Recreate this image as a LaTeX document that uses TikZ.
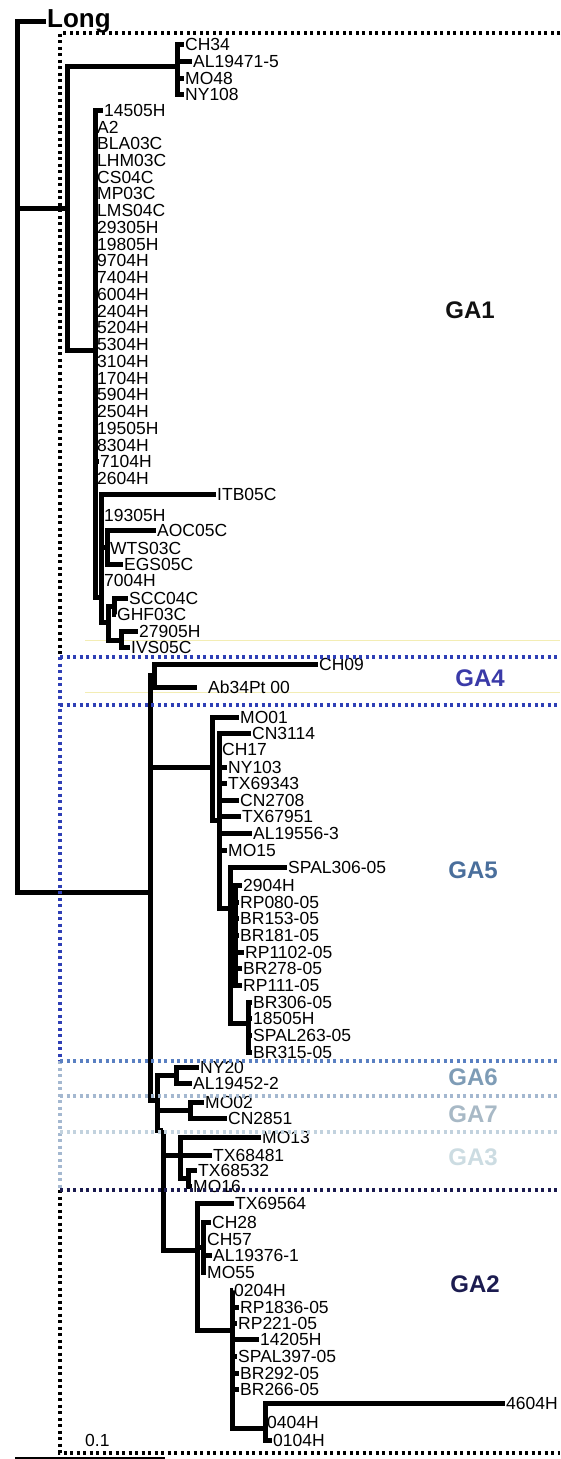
\documentclass[tikz,border=0pt]{standalone}
\usepackage{fontspec}
\setmainfont{Liberation Sans}
\usepackage{xcolor}
\definecolor{gaone}{HTML}{111111}
\definecolor{gafour}{HTML}{3A3AA8}
\definecolor{gafive}{HTML}{4A6F9C}
\definecolor{gasix}{HTML}{7E9CB6}
\definecolor{gaseven}{HTML}{A8B9C6}
\definecolor{gathree}{HTML}{CCDCE2}
\definecolor{gatwo}{HTML}{1C1C50}
\definecolor{lineblue}{HTML}{2E3FB5}
\definecolor{linemid}{HTML}{5A80C2}
\definecolor{linelight}{HTML}{A4B8D0}
\definecolor{linepale}{HTML}{C2D2DE}
\definecolor{faintyellow}{HTML}{F3EDB4}

\begin{document}
\begin{tikzpicture}[x=1pt, y=-1pt,
    br/.style={line width=5pt},
    leaf/.style={anchor=west, inner sep=1pt, font=\fontsize{17.5}{17.5}\selectfont},
    grp/.style={font=\bfseries\fontsize{24}{24}\selectfont},
    sep/.style={line width=3.2pt, dash pattern=on 3pt off 3.5pt}]
  \fill[white] (0,0) rectangle (560,1459);
  \useasboundingbox (0,0) rectangle (560,1459);

  % inner nodes of the tree
  \coordinate (root) at (17,450);
  \coordinate (ga1) at (67,208);  \coordinate (c34) at (177,66);
  \coordinate (comb) at (95,350); \coordinate (g1s) at (101,597);
  \coordinate (aoc) at (107,547); \coordinate (low) at (108,622);
  \coordinate (scc) at (114,606); \coordinate (l27) at (121,640);
  \coordinate (n1) at (150,892);  \coordinate (ga4) at (154,675);
  \coordinate (ga5) at (212,767); \coordinate (n5a) at (219,820);
  \coordinate (n5b) at (230,908); \coordinate (n5c) at (235,940);
  \coordinate (n5d) at (248,1023);
  \coordinate (n2) at (157,1100); \coordinate (ga6) at (176,1075);
  \coordinate (ga7) at (190,1110); \coordinate (n3) at (163,1130);
  \coordinate (ga3) at (180,1155); \coordinate (g3s) at (188,1178);
  \coordinate (ga2) at (197,1250); \coordinate (g2a) at (203,1247);
  \coordinate (g2b) at (232,1330); \coordinate (g2c) at (265,1428);

  % faint lines behind
  \draw[faintyellow, line width=1pt] (85,640) -- (560,640);
  \draw[faintyellow, line width=1pt] (85,692) -- (560,692);

  % root
  \node[anchor=west, inner sep=1pt, font=\bfseries\fontsize{26}{26}\selectfont] (long) at (46,21) {Long};
  \draw[br] (root) |- (long.west);
  \draw[br] (root) |- (ga1); \draw[br] (root) |- (n1);

  % GA1
  \draw[br] (ga1) |- (c34); \draw[br] (ga1) |- (comb);
  \node[leaf] (ch34) at (184,44) {CH34};
  \node[leaf] (al194715) at (192,61) {AL19471-5};
  \node[leaf] (mo48) at (184,78) {MO48};
  \node[leaf] (ny108) at (184,94) {NY108};
  \draw[br] (c34) |- (ch34.west); \draw[br] (c34) |- (al194715.west);
  \draw[br] (c34) |- (mo48.west); \draw[br] (c34) |- (ny108.west);

  \node[leaf] (h14505) at (103,110) {14505H};
  \node[leaf] (a2) at (96,127) {A2};
  \node[leaf] (bla03c) at (96,143.5) {BLA03C};
  \node[leaf] (lhm03c) at (96,160.25) {LHM03C};
  \node[leaf] (cs04c) at (96,177) {CS04C};
  \node[leaf] (mp03c) at (96,193.75) {MP03C};
  \node[leaf] (lms04c) at (96,210.5) {LMS04C};
  \node[leaf] (h29305) at (96,227.25) {29305H};
  \node[leaf] (h19805) at (96,244) {19805H};
  \node[leaf] (h9704) at (96,260.75) {9704H};
  \node[leaf] (h7404) at (96,277.5) {7404H};
  \node[leaf] (h6004) at (96,294.25) {6004H};
  \node[leaf] (h2404) at (96,311) {2404H};
  \node[leaf] (h5204) at (96,327.75) {5204H};
  \node[leaf] (h5304) at (96,344.5) {5304H};
  \node[leaf] (h3104) at (96,361.25) {3104H};
  \node[leaf] (h1704) at (96,378) {1704H};
  \node[leaf] (h5904) at (96,394.75) {5904H};
  \node[leaf] (h2504) at (96,411.5) {2504H};
  \node[leaf] (h19505) at (96,428.25) {19505H};
  \node[leaf] (h8304) at (96,445) {8304H};
  \node[leaf] (h7104) at (99,461.75) {7104H};
  \node[leaf] (h2604) at (96,478.5) {2604H};
  \draw[br] (comb) |- (h14505.west); \draw[br] (comb) |- (a2.west);
  \draw[br] (comb) |- (h7104.west);  \draw[br] (comb) |- (g1s);

  \node[leaf] (itb05c) at (216,494) {ITB05C};
  \node[leaf] (h19305) at (103,515) {19305H};
  \node[leaf] (aoc05c) at (156,530) {AOC05C};
  \node[leaf] (wts03c) at (109,548) {WTS03C};
  \node[leaf] (egs05c) at (123,564) {EGS05C};
  \node[leaf] (h7004) at (103,580) {7004H};
  \node[leaf] (scc04c) at (128,598) {SCC04C};
  \node[leaf] (ghf03c) at (116,614) {GHF03C};
  \node[leaf] (h27905) at (138,631) {27905H};
  \node[leaf] (ivs05c) at (130,647) {IVS05C};
  \draw[br] (g1s) |- (itb05c.west); \draw[br] (g1s) |- (h19305.west);
  \draw[br] (g1s) |- (aoc); \draw[br] (g1s) |- (h7004.west); \draw[br] (g1s) |- (low);
  \draw[br] (aoc) |- (aoc05c.west); \draw[br] (aoc) |- (wts03c.west); \draw[br] (aoc) |- (egs05c.west);
  \draw[br] (low) |- (scc); \draw[br] (low) |- (l27);
  \draw[br] (scc) |- (scc04c.west); \draw[br] (scc) |- (ghf03c.west);
  \draw[br] (l27) |- (h27905.west); \draw[br] (l27) |- (ivs05c.west);

  % GA4
  \draw[br] (n1) |- (ga4); \draw[br] (n1) |- (ga5); \draw[br] (n1) |- (n2);
  \node[leaf] (ch09) at (318,664) {CH09};
  \node[leaf] (ab34pt) at (207,687) {Ab34Pt 00};
  \draw[br] (ga4) |- (ch09.west); \draw[br] (ga4) |- ([xshift=-10pt]ab34pt.west);

  % GA5
  \node[leaf] (mo01) at (239,717) {MO01};
  \node[leaf] (cn3114) at (251,733) {CN3114};
  \node[leaf] (ch17) at (221,749) {CH17};
  \node[leaf] (ny103) at (227,767) {NY103};
  \node[leaf] (tx69343) at (227,783) {TX69343};
  \node[leaf] (cn2708) at (239,800) {CN2708};
  \node[leaf] (tx67951) at (241,816) {TX67951};
  \node[leaf] (al195563) at (252,833) {AL19556-3};
  \node[leaf] (mo15) at (227,850) {MO15};
  \node[leaf] (spal306) at (287,867) {SPAL306-05};
  \node[leaf] (h2904) at (242,885) {2904H};
  \node[leaf] (rp080) at (239,902) {RP080-05};
  \node[leaf] (br153) at (239,918) {BR153-05};
  \node[leaf] (br181) at (239,935) {BR181-05};
  \node[leaf] (rp1102) at (244,952) {RP1102-05};
  \node[leaf] (br278) at (242,968) {BR278-05};
  \node[leaf] (rp111) at (242,985) {RP111-05};
  \node[leaf] (br306) at (252,1002) {BR306-05};
  \node[leaf] (h18505) at (252,1018) {18505H};
  \node[leaf] (spal263) at (252,1035) {SPAL263-05};
  \node[leaf] (br315) at (252,1052) {BR315-05};
  \draw[br] (ga5) |- (mo01.west); \draw[br] (ga5) |- (n5a);
  \draw[br] (n5a) |- (cn3114.west); \draw[br] (n5a) |- (ch17.west);
  \draw[br] (n5a) |- (ny103.west); \draw[br] (n5a) |- (tx69343.west);
  \draw[br] (n5a) |- (cn2708.west); \draw[br] (n5a) |- (tx67951.west);
  \draw[br] (n5a) |- (al195563.west); \draw[br] (n5a) |- (mo15.west);
  \draw[br] (n5a) |- (n5b);
  \draw[br] (n5b) |- (spal306.west); \draw[br] (n5b) |- (n5c); \draw[br] (n5b) |- (n5d);
  \draw[br] (n5c) |- (h2904.west); \draw[br] (n5c) |- (rp080.west);
  \draw[br] (n5c) |- (br153.west); \draw[br] (n5c) |- (br181.west);
  \draw[br] (n5c) |- (rp1102.west); \draw[br] (n5c) |- (br278.west);
  \draw[br] (n5c) |- (rp111.west);
  \draw[br] (n5d) |- (br306.west); \draw[br] (n5d) |- (h18505.west);
  \draw[br] (n5d) |- (spal263.west); \draw[br] (n5d) |- (br315.west);

  % GA6, GA7, GA3
  \draw[br] (n2) |- (ga6); \draw[br] (n2) |- (ga7); \draw[br] (n2) |- (n3);
  \node[leaf] (ny20) at (199,1067) {NY20};
  \node[leaf] (al194522) at (192,1083) {AL19452-2};
  \draw[br] (ga6) |- (ny20.west); \draw[br] (ga6) |- (al194522.west);
  \node[leaf] (mo02) at (204,1102) {MO02};
  \node[leaf] (cn2851) at (227,1118) {CN2851};
  \draw[br] (ga7) |- (mo02.west); \draw[br] (ga7) |- (cn2851.west);
  \draw[br] (n3) |- (ga3); \draw[br] (n3) |- (ga2);
  \node[leaf] (mo13) at (261,1137) {MO13};
  \node[leaf] (tx68481) at (212,1155) {TX68481};
  \node[leaf] (tx68532) at (197,1170) {TX68532};
  \node[leaf] (mo16) at (192,1186) {MO16};
  \draw[br] (ga3) |- (mo13.west); \draw[br] (ga3) |- (tx68481.west); \draw[br] (ga3) |- (g3s);
  \draw[br] (g3s) |- (tx68532.west); \draw[br] (g3s) |- (mo16.west);

  % GA2
  \node[leaf] (tx69564) at (234,1203) {TX69564};
  \node[leaf] (ch28) at (211,1222) {CH28};
  \node[leaf] (ch57) at (206,1239) {CH57};
  \node[leaf] (al193761) at (212,1255) {AL19376-1};
  \node[leaf] (mo55) at (206,1272) {MO55};
  \node[leaf] (h0204) at (233,1290) {0204H};
  \node[leaf] (rp1836) at (239,1307) {RP1836-05};
  \node[leaf] (rp221) at (237,1323) {RP221-05};
  \node[leaf] (h14205) at (259,1339) {14205H};
  \node[leaf] (spal397) at (237,1356) {SPAL397-05};
  \node[leaf] (br292) at (239,1373) {BR292-05};
  \node[leaf] (br266) at (239,1389) {BR266-05};
  \node[leaf] (h4604) at (505,1403) {4604H};
  \node[leaf] (h0404) at (266,1422) {0404H};
  \node[leaf] (h0104) at (272,1440) {0104H};
  \draw[br] (ga2) |- (tx69564.west); \draw[br] (ga2) |- (g2a); \draw[br] (ga2) |- (g2b);
  \draw[br] (g2a) |- (ch28.west); \draw[br] (g2a) |- (ch57.west);
  \draw[br] (g2a) |- (al193761.west); \draw[br] (g2a) |- (mo55.west);
  \draw[br] (g2b) |- (h0204.west); \draw[br] (g2b) |- (rp1836.west);
  \draw[br] (g2b) |- (rp221.west); \draw[br] (g2b) |- (h14205.west);
  \draw[br] (g2b) |- (spal397.west); \draw[br] (g2b) |- (br292.west);
  \draw[br] (g2b) |- (br266.west); \draw[br] (g2b) |- (g2c);
  \draw[br] (g2c) |- (h4604.west); \draw[br] (g2c) |- (h0404.west); \draw[br] (g2c) |- (h0104.west);

  % group frames
  \draw[sep] (560,33) -- (60,33) -- (60,657);
  \draw[sep, lineblue] (60,657) -- (60,1061);
  \draw[sep, linelight] (60,1061) -- (60,1190);
  \draw[sep] (60,1190) -- (60,1453) -- (560,1453);
  \draw[sep, lineblue] (60,657) -- (560,657);
  \draw[sep, lineblue] (60,705) -- (560,705);
  \draw[sep, linemid] (60,1061) -- (560,1061);
  \draw[sep, linelight] (60,1096) -- (560,1096);
  \draw[sep, linepale] (60,1132) -- (560,1132);
  \draw[sep, gatwo] (60,1190) -- (560,1190);

  % group names
  \node[grp, gaone] (lga1) at (470,310) {GA1};
  \node[grp, gafour] (lga4) at (480,678) {GA4};
  \node[grp, gafive] (lga5) at (473,870) {GA5};
  \node[grp, gasix] (lga6) at (473,1077) {GA6};
  \node[grp, gaseven] (lga7) at (473,1114) {GA7};
  \node[grp, gathree] (lga3) at (473,1157) {GA3};
  \node[grp, gatwo] (lga2) at (475,1284) {GA2};

  % scale
  \node[leaf] (scale) at (84,1440) {0.1};
  \draw[line width=2.5pt] (15,1458) -- (165,1458);
\end{tikzpicture}
\end{document}
